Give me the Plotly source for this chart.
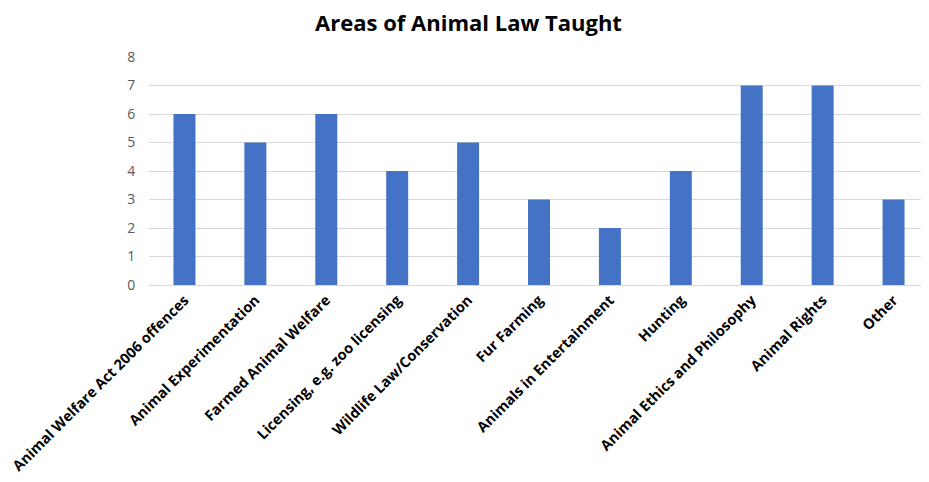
import plotly.graph_objects as go

categories = [
    "Animal Welfare Act 2006 offences",
    "Animal Experimentation",
    "Farmed Animal Welfare",
    "Licensing, e.g. zoo licensing",
    "Wildlife Law/Conservation",
    "Fur Farming",
    "Animals in Entertainment",
    "Hunting",
    "Animal Ethics and Philosophy",
    "Animal Rights",
    "Other",
]
values = [6, 5, 6, 4, 5, 3, 2, 4, 7, 7, 3]
y_ticks = [0, 1, 2, 3, 4, 5, 6, 7, 8]

fig = go.Figure(
    go.Bar(x=categories, y=values, marker=dict(color="#4472C4", line=dict(width=0)), width=0.31)
)

fig.update_layout(
    width=921,
    height=474,
    margin=dict(l=136, r=0, t=49, b=197),
    paper_bgcolor="white",
    plot_bgcolor="white",
    showlegend=False,
    title=dict(
        text="<b>Areas of Animal Law Taught</b>",
        x=0.5,
        xanchor="center",
        y=1 - 15 / 474,
        yanchor="middle",
        font=dict(family="Open Sans, Lato, sans-serif", size=22, color="#000000"),
    ),
    font=dict(family="Open Sans, Lato, sans-serif"),
)

fig.update_xaxes(
    tickangle=-45,
    tickfont=dict(family="Open Sans, Lato, sans-serif", size=14.5, color="#000000", weight="bold"),
    showgrid=False,
    showline=True,
    linecolor="#d9d9d9",
    linewidth=1,
    ticks="",
    range=[-0.5, len(categories) - 0.5],
)

fig.update_yaxes(
    range=[0, 8],
    tickvals=y_ticks,
    showgrid=True,
    gridcolor="#d9d9d9",
    gridwidth=1,
    zeroline=False,
    showline=False,
    ticks="outside",
    ticklen=10,
    tickcolor="rgba(0,0,0,0)",
    tickfont=dict(family="Open Sans, Lato, sans-serif", size=14, color="#595959"),
)

fig.write_html("out.html")
